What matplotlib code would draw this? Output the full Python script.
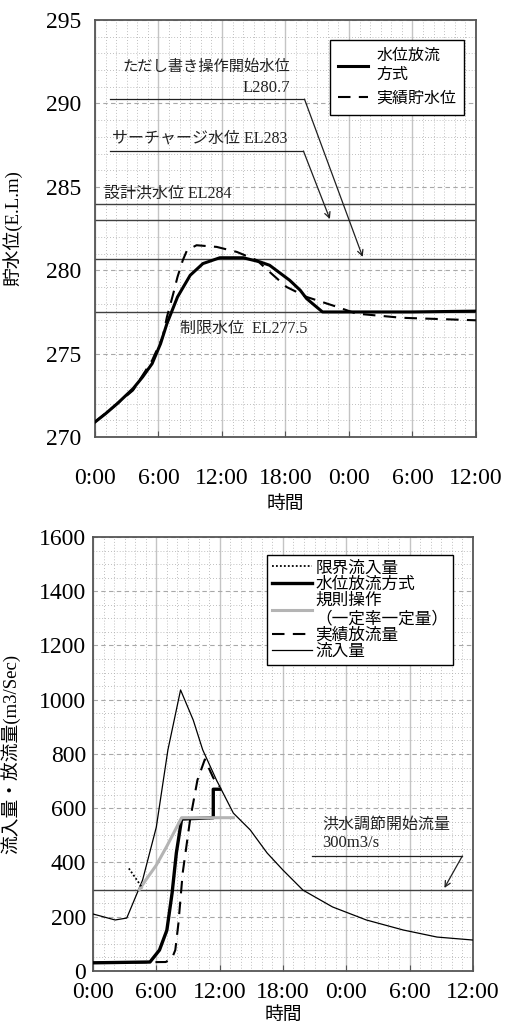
import matplotlib
matplotlib.use("Agg")
import matplotlib.pyplot as plt
import matplotlib.ticker as mticker

plt.rcParams["font.family"] = ["Liberation Serif", "Noto Sans CJK JP"]

# ---------------------------------------------------------------------------
# Data (time in hours from 0:00)
# ---------------------------------------------------------------------------
TIME_TICKS = [0, 6, 12, 18, 24, 30, 36]
TIME_LABELS = ["0:00", "6:00", "12:00", "18:00", "0:00", "6:00", "12:00"]

# reservoir level
LVL_SIM_T = [0, 1, 2.1, 3.6, 4.5, 5.4, 6.2, 6.8, 7.8, 9.0, 10.2, 11.8, 14.0,
             15.6, 16.5, 18.4, 19.4, 20.0, 21.5, 24, 30, 36]
LVL_SIM_H = [270.9, 271.4, 272.0, 272.9, 273.6, 274.4, 275.6, 276.8, 278.4,
             279.7, 280.4, 280.75, 280.75, 280.5, 280.3, 279.4, 278.8, 278.3,
             277.5, 277.5, 277.5, 277.55]
LVL_OBS_T = [0, 2.1, 3.6, 5.4, 6.4, 6.8, 7.4, 7.8, 8.3, 8.7, 9.6, 11.5, 13.4,
             15.3, 16.5, 18.1, 20.0, 22.9, 24.7, 29.0, 36]
LVL_OBS_H = [270.9, 272.0, 272.8, 274.6, 276.0, 277.2, 278.6, 279.6, 280.6,
             281.2, 281.5, 281.4, 281.1, 280.6, 279.9, 279.0, 278.4, 277.8,
             277.4, 277.15, 277.0]

EL_PROVISO = 280.7
EL_SURCHARGE = 283.0
EL_DESIGN = 284.0
EL_LIMIT = 277.5

# discharge
INFLOW_T = [0, 2.1, 3.2, 4.7, 6.0, 7.1, 8.3, 9.5, 10.4, 11.7, 13.3, 14.9,
            16.5, 18.0, 19.9, 22.7, 25.9, 29.4, 32.6, 36]
INFLOW_Q = [210, 188, 195, 335, 530, 815, 1036, 925, 815, 704, 582, 520,
            435, 372, 298, 236, 188, 151, 125, 114]
OUT_SIM_T = [0, 5.4, 6.3, 7.0, 7.5, 7.9, 8.4, 11.4, 11.4, 12.0]
OUT_SIM_Q = [30, 33, 77, 150, 288, 435, 560, 565, 670, 670]
OUT_OBS_T = [0, 6.9, 7.5, 7.8, 8.1, 8.5, 9.2, 9.9, 10.6, 11.4, 12.0]
OUT_OBS_Q = [30, 33, 48, 77, 177, 361, 557, 704, 780, 712, 680]
RULE_T = [4.4, 5.0, 6.0, 7.0, 8.4, 13.3]
RULE_Q = [300, 335, 390, 460, 565, 565]
LIMIT_T = [3.4, 4.7]
LIMIT_Q = [378, 305]

Q_START = 300

REF_KW = dict(color="#404040", lw=1.0, zorder=2)
ARROW_KW = dict(arrowstyle="->", color="#202020", lw=0.9,
                shrinkA=0, shrinkB=0)


def style_axes(ax, ymin, ymax, ymajor, yminor, ylabel, xlabel,
               xpad, ypad, ylab_x, xlab_y):
    ax.set_xlim(0, 36)
    ax.set_ylim(ymin, ymax)
    ax.set_xticks(TIME_TICKS)
    ax.set_xticklabels(TIME_LABELS)
    ax.xaxis.set_minor_locator(mticker.MultipleLocator(1))
    ax.yaxis.set_major_locator(mticker.MultipleLocator(ymajor))
    ax.yaxis.set_minor_locator(mticker.MultipleLocator(yminor))
    ax.xaxis.grid(True, which="major", color="#c4c4c4", lw=1.0, ls="-")
    ax.yaxis.grid(True, which="major", color="#a8a8a8", lw=0.8, ls=(0, (4, 3)))
    ax.grid(True, which="minor", color="#aaaaaa", lw=0.6, ls=(0, (1, 2.5)))
    ax.set_axisbelow(True)
    ax.tick_params(axis="x", which="major", direction="in", length=4,
                   labelsize=17, pad=xpad, color="#555555")
    ax.tick_params(axis="y", which="major", length=0, labelsize=17, pad=ypad)
    ax.tick_params(which="minor", length=0)
    for s in ax.spines.values():
        s.set_color("#555555")
        s.set_linewidth(1.3)
    ax.set_ylabel(ylabel, fontsize=13.5)
    ax.yaxis.set_label_coords(ylab_x, 0.5)
    ax.set_xlabel(xlabel, fontsize=13.5)
    ax.xaxis.set_label_coords(0.5, xlab_y)


fig = plt.figure(figsize=(5.12, 10.24), dpi=100)
fig.patch.set_facecolor("white")

# ── top: reservoir level ──
ax1 = fig.add_axes([0.1855, 0.5732, 0.744, 0.4072])
for el in (EL_DESIGN, EL_SURCHARGE, EL_PROVISO, EL_LIMIT):
    ax1.axhline(el, **REF_KW)

l_sim, = ax1.plot(LVL_SIM_T, LVL_SIM_H, color="black", lw=2.2, zorder=4,
                  solid_joinstyle="round")
l_obs, = ax1.plot(LVL_OBS_T, LVL_OBS_H, color="black", lw=1.5,
                  ls=(0, (6, 4)), zorder=3)

ax1.text(18.4, 292.2, "ただし書き操作開始水位", ha="right", va="center",
         fontsize=11, color="#222222")
ax1.text(18.4, 290.9, "L280.7", ha="right", va="center", fontsize=12,
         color="#222222")
ax1.plot([1.4, 19.8], [290.26, 290.26], color="#202020", lw=0.9)
ax1.annotate("", xy=(25.3, EL_PROVISO + 0.1), xytext=(19.8, 290.26),
             arrowprops=ARROW_KW)

ax1.text(1.6, 287.87, "サーチャージ水位 EL283", ha="left", va="center",
         fontsize=11.5, color="#222222")
ax1.plot([1.4, 19.7], [287.15, 287.15], color="#202020", lw=0.9)
ax1.annotate("", xy=(22.2, EL_SURCHARGE + 0.07), xytext=(19.7, 287.15),
             arrowprops=ARROW_KW)

ax1.text(0.85, 284.6, "設計洪水位 EL284", ha="left", va="center",
         fontsize=11.5, color="#222222")
ax1.text(8.0, 276.5, "制限水位  EL277.5", ha="left", va="center",
         fontsize=11.5, color="#222222")

leg1 = ax1.legend([l_sim, l_obs], ["水位放流\n方式", "実績貯水位"],
                  loc="upper right", bbox_to_anchor=(0.99, 0.971),
                  fontsize=11.5, handlelength=1.9, handletextpad=0.5,
                  labelspacing=0.5, borderpad=0.5, fancybox=False,
                  framealpha=1, edgecolor="black")
leg1.get_frame().set_linewidth(1.0)

style_axes(ax1, 270, 295, 5, 1, "貯水位(E.L.m)", "時間",
           xpad=22, ypad=10, ylab_x=-0.19, xlab_y=-0.142)

# ── bottom: inflow / outflow ──
ax2 = fig.add_axes([0.1816, 0.0518, 0.742, 0.4238])
ax2.axhline(Q_START, **REF_KW)

l_in, = ax2.plot(INFLOW_T, INFLOW_Q, color="black", lw=0.9, zorder=3)
l_osim, = ax2.plot(OUT_SIM_T, OUT_SIM_Q, color="black", lw=2.4, zorder=4)
l_rule, = ax2.plot(RULE_T, RULE_Q, color="#b4b4b4", lw=2.2, zorder=5)
l_oobs, = ax2.plot(OUT_OBS_T, OUT_OBS_Q, color="black", lw=1.5,
                   ls=(0, (6, 4)), zorder=4)
l_lim, = ax2.plot(LIMIT_T, LIMIT_Q, color="black", lw=1.3, ls=(0, (1, 1.2)),
                  zorder=5)

ax2.text(21.7, 538, "洪水調節開始流量", ha="left", va="center",
         fontsize=11.5, color="#222222")
ax2.text(21.7, 472, "300m3/s", ha="left", va="center", fontsize=12,
         color="#222222")
ax2.plot([20.8, 35.0], [424, 424], color="#202020", lw=0.9)
ax2.annotate("", xy=(33.3, Q_START + 6), xytext=(35.0, 424),
             arrowprops=ARROW_KW)

leg2 = ax2.legend([l_lim, l_osim, l_rule, l_oobs, l_in],
                  ["限界流入量", "水位放流方式", "規則操作\n（一定率一定量）",
                   "実績放流量", "流入量"],
                  loc="upper right", bbox_to_anchor=(0.97, 0.977),
                  fontsize=12, handlelength=2.4, handletextpad=0.2,
                  labelspacing=0.02, borderpad=0.3, fancybox=False,
                  framealpha=1, edgecolor="black")
leg2.get_frame().set_linewidth(1.0)

style_axes(ax2, 0, 1600, 200, 50, "流入量・放流量(m3/Sec)", "時間",
           xpad=8, ypad=5, ylab_x=-0.19, xlab_y=-0.084)

fig.savefig("out.png", dpi=100, facecolor="white")
plt.close(fig)
